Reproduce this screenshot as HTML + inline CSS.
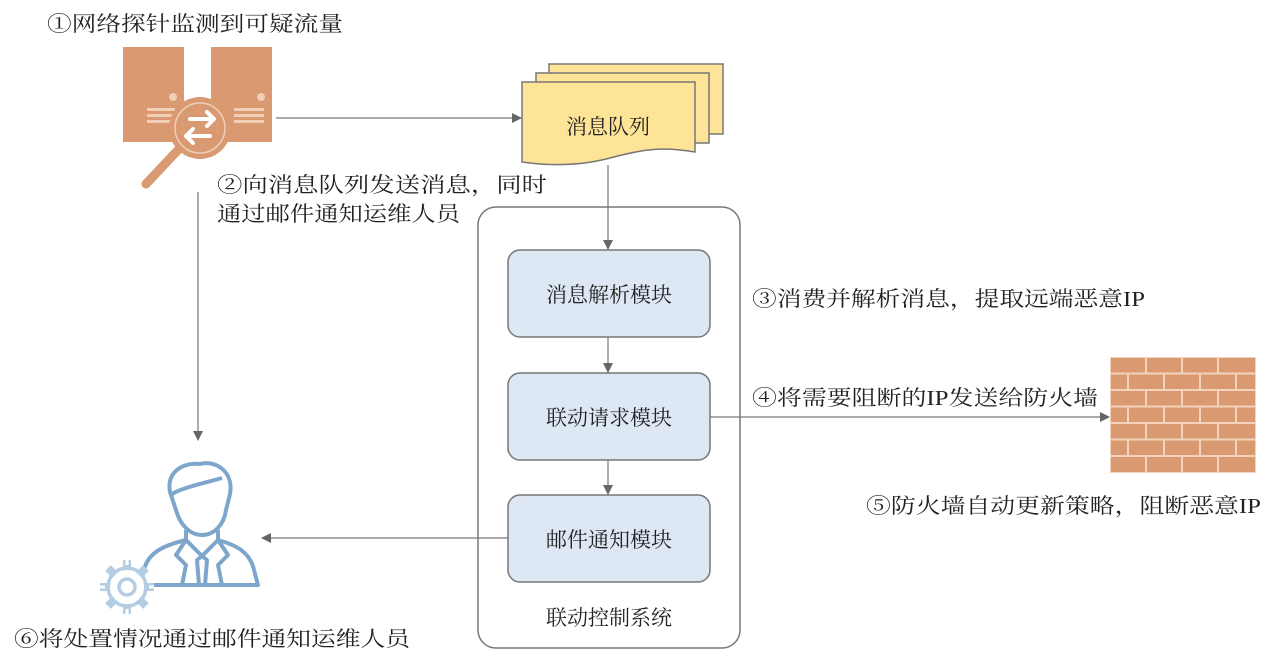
<!DOCTYPE html>
<html><head><meta charset="utf-8"><style>
html,body{margin:0;padding:0;background:#fff;}
svg{display:block;}
text{font-family:"Liberation Serif","Noto Serif CJK SC",serif;fill:#222;font-size:21px;}
</style></head><body>
<svg width="1280" height="668" viewBox="0 0 1280 668" xmlns="http://www.w3.org/2000/svg">
<defs>
<marker id="ar" markerWidth="10" markerHeight="10" refX="9" refY="5" orient="auto" markerUnits="userSpaceOnUse">
<path d="M0,0 L10,5 L0,10 z" fill="#666"/>
</marker>
</defs>

<!-- Server icon -->
<g fill="#d99a71">
<rect x="123" y="47" width="61" height="95"/>
<rect x="211" y="47" width="61" height="95"/>
</g>
<g fill="#f1cfb7">
<circle cx="173" cy="97" r="4"/>
<circle cx="261" cy="97" r="4"/>
<rect x="147" y="108" width="28" height="3"/><rect x="147" y="114" width="28" height="3"/><rect x="147" y="120" width="28" height="3"/>
<rect x="234" y="108" width="30" height="3"/><rect x="234" y="114" width="30" height="3"/><rect x="234" y="120" width="30" height="3"/>
</g>
<line x1="178" y1="150" x2="146" y2="184" stroke="#d99a71" stroke-width="9" stroke-linecap="round"/>
<circle cx="200" cy="128" r="31" fill="#d99a71"/>
<circle cx="200" cy="128" r="25" fill="none" stroke="#f1cfb7" stroke-width="1.5"/>
<g stroke="#fff" stroke-width="4" fill="none" stroke-linecap="round" stroke-linejoin="round">
<path d="M190,119 L214,119 M207,112 L214,119 L207,126"/>
<path d="M210,136 L186,136 M193,129 L186,136 L193,143"/>
</g>

<!-- Person icon -->
<g fill="none" stroke="#7ea6cc" stroke-width="4" stroke-linejoin="round">
<path d="M170,492 C166,470 186,462 200,464 C214,460 234,470 230,494 L226,510 C224,525 214,535 202,535 C190,535 180,525 176,510 Z"/>
<path d="M172,494 C182,488 200,484 222,478"/>
<path d="M186,530 L186,540 C165,545 148,552 144,570 L140,585 L258,585 L254,570 C250,552 236,545 218,540 L218,530"/>
<path d="M186,540 L176,555 L186,565 L182,585"/>
<path d="M218,540 L228,555 L218,565 L222,585"/>
<path d="M186,540 L202,556 L218,540"/>
<path d="M197,560 L202,556 L207,560 L205,585 L199,585 Z"/>
</g>
<!-- Gear -->
<circle cx="127" cy="587" r="20" fill="#fff"/>
<g stroke="#b5cde3" stroke-width="8">
<line x1="127" y1="560" x2="127" y2="614"/><line x1="100" y1="587" x2="154" y2="587"/>
<line x1="108" y1="568" x2="146" y2="606"/><line x1="146" y1="568" x2="108" y2="606"/>
</g>
<circle cx="127" cy="587" r="17" fill="#fff"/>
<circle cx="127" cy="587" r="19" fill="none" stroke="#b5cde3" stroke-width="3.5"/>
<circle cx="127" cy="587" r="8" fill="none" stroke="#b5cde3" stroke-width="3.5"/>
<g stroke="#fff" stroke-width="3">
<line x1="127" y1="560" x2="127" y2="565"/><line x1="127" y1="609" x2="127" y2="614"/>
<line x1="100" y1="587" x2="105" y2="587"/><line x1="149" y1="587" x2="154" y2="587"/>
</g>

<!-- Message queue -->
<g stroke="#777" stroke-width="1.5" fill="#fde497">
<rect x="549" y="64" width="174" height="70"/>
<rect x="536" y="73" width="173" height="70"/>
<path d="M522,82 L695,82 L695,152 C660,146 640,150 610,158 C580,166 550,166 522,162 Z"/>
</g>
<text x="608" y="134" text-anchor="middle" font-size="22">消息队列</text>

<!-- Container -->
<rect x="478" y="207" width="262" height="441" rx="18" fill="none" stroke="#777" stroke-width="1.5"/>
<g fill="#dde8f4" stroke="#777" stroke-width="1.5">
<rect x="508" y="250" width="202" height="87" rx="12"/>
<rect x="508" y="373" width="202" height="87" rx="12"/>
<rect x="508" y="495" width="202" height="87" rx="12"/>
</g>
<text x="609" y="302" text-anchor="middle" font-size="22">消息解析模块</text>
<text x="609" y="425" text-anchor="middle" font-size="22">联动请求模块</text>
<text x="609" y="547" text-anchor="middle" font-size="22">邮件通知模块</text>
<text x="609" y="625" text-anchor="middle">联动控制系统</text>

<!-- Firewall -->
<rect x="1110" y="357" width="146" height="116" fill="#f3d3bc"/>
<g fill="#d99a71">
<rect x="1111" y="358" width="34" height="14.5"/><rect x="1147" y="358" width="34" height="14.5"/><rect x="1183" y="358" width="34" height="14.5"/><rect x="1219" y="358" width="36" height="14.5"/>
<rect x="1111" y="374.5" width="16" height="14.5"/><rect x="1129" y="374.5" width="34" height="14.5"/><rect x="1165" y="374.5" width="34" height="14.5"/><rect x="1201" y="374.5" width="34" height="14.5"/><rect x="1237" y="374.5" width="18" height="14.5"/>
<rect x="1111" y="391" width="34" height="14.5"/><rect x="1147" y="391" width="34" height="14.5"/><rect x="1183" y="391" width="34" height="14.5"/><rect x="1219" y="391" width="36" height="14.5"/>
<rect x="1111" y="407.5" width="16" height="14.5"/><rect x="1129" y="407.5" width="34" height="14.5"/><rect x="1165" y="407.5" width="34" height="14.5"/><rect x="1201" y="407.5" width="34" height="14.5"/><rect x="1237" y="407.5" width="18" height="14.5"/>
<rect x="1111" y="424" width="34" height="14.5"/><rect x="1147" y="424" width="34" height="14.5"/><rect x="1183" y="424" width="34" height="14.5"/><rect x="1219" y="424" width="36" height="14.5"/>
<rect x="1111" y="440.5" width="16" height="14.5"/><rect x="1129" y="440.5" width="34" height="14.5"/><rect x="1165" y="440.5" width="34" height="14.5"/><rect x="1201" y="440.5" width="34" height="14.5"/><rect x="1237" y="440.5" width="18" height="14.5"/>
<rect x="1111" y="457" width="34" height="15"/><rect x="1147" y="457" width="34" height="15"/><rect x="1183" y="457" width="34" height="15"/><rect x="1219" y="457" width="36" height="15"/>
</g>

<!-- Connectors -->
<g stroke="#777" stroke-width="1.2" fill="none">
<line x1="276" y1="118" x2="521" y2="118" marker-end="url(#ar)"/>
<line x1="608" y1="165" x2="608" y2="249" marker-end="url(#ar)"/>
<line x1="608" y1="337" x2="608" y2="372" marker-end="url(#ar)"/>
<line x1="608" y1="460" x2="608" y2="494" marker-end="url(#ar)"/>
<line x1="710" y1="417" x2="1109" y2="417" marker-end="url(#ar)"/>
<line x1="508" y1="538" x2="262" y2="538" marker-end="url(#ar)"/>
<line x1="198" y1="192" x2="198" y2="440" marker-end="url(#ar)"/>
</g>

<!-- Labels -->
<text x="47" y="31" textLength="296" lengthAdjust="spacingAndGlyphs">①网络探针监测到可疑流量</text>
<text x="217" y="192" textLength="330" lengthAdjust="spacingAndGlyphs">②向消息队列发送消息，同时</text>
<text x="217" y="221" textLength="243" lengthAdjust="spacingAndGlyphs">通过邮件通知运维人员</text>
<text x="752" y="306" textLength="393" lengthAdjust="spacingAndGlyphs">③消费并解析消息，提取远端恶意IP</text>
<text x="752" y="405" textLength="346" lengthAdjust="spacingAndGlyphs">④将需要阻断的IP发送给防火墙</text>
<text x="866" y="513" textLength="395" lengthAdjust="spacingAndGlyphs">⑤防火墙自动更新策略，阻断恶意IP</text>
<text x="14" y="646" textLength="396" lengthAdjust="spacingAndGlyphs">⑥将处置情况通过邮件通知运维人员</text>
</svg>
</body></html>
